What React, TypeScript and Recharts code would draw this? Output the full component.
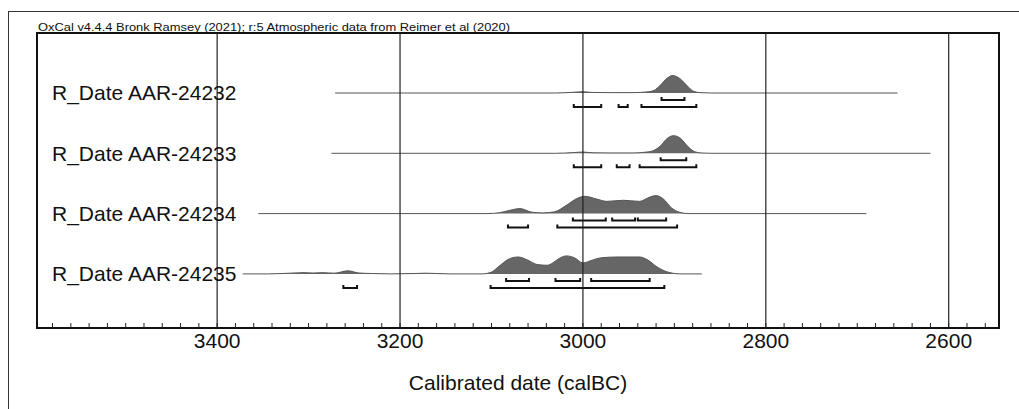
import React from 'react';
import { ComposedChart, Area, Line, XAxis, YAxis, ReferenceLine, ReferenceArea } from 'recharts';

const HEADER = 'OxCal v4.4.4 Bronk Ramsey (2021); r:5 Atmospheric data from Reimer et al (2020)';
const X_LABEL = 'Calibrated date (calBC)';
const SAMPLES = ['R_Date AAR-24232', 'R_Date AAR-24233', 'R_Date AAR-24234', 'R_Date AAR-24235'];

// [calBC, relative probability]
const PROB_24232 = [
  [3271, 0], [3030, 0], [3010, 0.04], [3000, 0.07], [2990, 0.03], [2970, 0.02], [2945, 0.02],
  [2930, 0.06], [2922, 0.15], [2916, 0.4], [2908, 0.82], [2902, 0.97], [2894, 0.8], [2886, 0.4],
  [2880, 0.12], [2872, 0.02], [2860, 0], [2656, 0],
];
const PROB_24233 = [
  [3275, 0], [3030, 0], [3010, 0.04], [3000, 0.07], [2990, 0.03], [2970, 0.02], [2945, 0.02],
  [2930, 0.07], [2922, 0.17], [2915, 0.42], [2908, 0.82], [2901, 0.98], [2893, 0.82], [2886, 0.42],
  [2879, 0.12], [2871, 0.02], [2860, 0], [2620, 0],
];
const PROB_24234 = [
  [3355, 0], [3105, 0], [3091, 0.05], [3080, 0.18], [3069, 0.28], [3056, 0.08], [3044, 0.04],
  [3031, 0.1], [3017, 0.5], [3007, 0.83], [2998, 0.96], [2985, 0.81], [2974, 0.68], [2956, 0.74],
  [2938, 0.68], [2929, 0.87], [2920, 1.0], [2912, 0.81], [2903, 0.31], [2894, 0.07], [2885, 0], [2690, 0],
];
const PROB_24235 = [
  [3372, 0], [3345, 0], [3320, 0.04], [3305, 0.07], [3295, 0.05], [3285, 0.07], [3272, 0.04],
  [3257, 0.17], [3245, 0.05], [3230, 0.02], [3210, 0], [3185, 0.02], [3172, 0.04], [3160, 0.02],
  [3145, 0], [3110, 0], [3100, 0.1], [3094, 0.33], [3087, 0.62], [3082, 0.8], [3071, 0.94],
  [3060, 0.76], [3050, 0.52], [3039, 0.48], [3033, 0.61], [3025, 0.89], [3018, 1.0], [3009, 0.89],
  [3000, 0.61], [2990, 0.76], [2981, 0.89], [2963, 0.94], [2938, 0.94], [2930, 0.8], [2919, 0.39],
  [2910, 0.15], [2902, 0.04], [2894, 0], [2870, 0],
];

// highest probability ranges [from, to] calBC
const RANGE68_24232 = [[2914, 2889]];
const RANGE95_24232 = [[3010, 2980], [2961, 2951], [2936, 2876]];
const RANGE68_24233 = [[2915, 2887]];
const RANGE95_24233 = [[3010, 2980], [2963, 2949], [2938, 2876]];
const RANGE68_24234 = [[3011, 2975], [2968, 2943], [2940, 2909]];
const RANGE95_24234 = [[3082, 3060], [3028, 2897]];
const RANGE68_24235 = [[3084, 3059], [3030, 3003], [2991, 2927]];
const RANGE95_24235 = [[3262, 3247], [3101, 2911]];

const MAJOR_TICKS = [3400, 3200, 3000, 2800, 2600];
const X_DOMAIN = [2545, 3597];

const PROBS = [PROB_24232, PROB_24233, PROB_24234, PROB_24235];
const R68 = [RANGE68_24232, RANGE68_24233, RANGE68_24234, RANGE68_24235];
const R95 = [RANGE95_24232, RANGE95_24233, RANGE95_24234, RANGE95_24235];

const Y_MAX = 295;
const ROW0 = 235;
const ROW_GAP = 60.3;
const PEAK = 18;
const FONT = '"Liberation Sans", Arial, Helvetica, sans-serif';

const rows = SAMPLES.map((name, i) => ({
  name,
  base: ROW0 - i * ROW_GAP,
  data: PROBS[i].map(([x, p]) => ({ x, p })),
  r68: R68[i],
  r95: R95[i],
}));

const minorTicks: number[] = [];
for (let t = 2560; t <= 3580; t += 20) minorTicks.push(t);

function bracket(from: number, to: number, level: number) {
  return [
    { x: from, y: level + 3 },
    { x: from, y: level },
    { x: to, y: level },
    { x: to, y: level + 3 },
  ];
}

function DateTick(props: any) {
  const { x, y, payload } = props;
  const major = MAJOR_TICKS.includes(payload.value);
  return (
    <g>
      <line x1={x} x2={x} y1={y} y2={y - 5} stroke="#222" strokeWidth={1} />
      {major && (
        <text x={x} y={y + 20} textAnchor="middle" fontSize={21} fill="#111" fontFamily={FONT}>
          {payload.value}
        </text>
      )}
    </g>
  );
}

export default function App() {
  return (
    <div style={{ position: 'absolute', left: 0, top: 0, width: 1019, height: 409, background: '#fff', overflow: 'hidden' }}>
      <div
        style={{
          position: 'absolute', left: 8, top: 11, width: 1100, height: 500,
          borderLeft: '1px solid #333', borderTop: '1px solid #333',
        }}
      />
      <svg width={1019} height={40} style={{ position: 'absolute', left: 0, top: 0 }}>
        <text x={38} y={30.5} fontSize={11} fill="#111" fontFamily={FONT} textLength={472} lengthAdjust="spacingAndGlyphs">
          {HEADER}
        </text>
      </svg>
      <div style={{ position: 'absolute', left: 0, top: 0 }}>
        <ComposedChart width={1019} height={409} margin={{ top: 33, right: 20, bottom: 11, left: 37 }}>
          <XAxis
            type="number"
            dataKey="x"
            domain={X_DOMAIN}
            reversed
            allowDataOverflow
            ticks={minorTicks}
            interval={0}
            tick={<DateTick />}
            tickLine={false}
            tickSize={0}
            tickMargin={0}
            height={70}
            axisLine={{ stroke: '#111', strokeWidth: 2 }}
            label={{ value: X_LABEL, position: 'insideBottom', offset: 8, fill: '#111', fontSize: 21, fontFamily: FONT }}
          />
          <YAxis type="number" domain={[0, Y_MAX]} allowDataOverflow hide />
          {rows.map((r) => (
            <ReferenceLine
              key={'l' + r.name}
              y={r.base}
              stroke="none"
              label={{ value: r.name, position: 'insideLeft', offset: 15, fill: '#111', fontSize: 21, fontFamily: FONT }}
            />
          ))}
          {rows.map((r) => (
            <Area
              key={'a' + r.name}
              data={r.data}
              dataKey={(d: any) => r.base + d.p * PEAK}
              baseValue={r.base}
              type="monotone"
              fill="#666"
              fillOpacity={1}
              stroke="#555"
              strokeWidth={1}
              dot={false}
              activeDot={false}
              isAnimationActive={false}
            />
          ))}
          {rows.flatMap((r) => [
            ...r.r68.map(([a, b], j) => ({ key: `${r.name}-68-${j}`, pts: bracket(a, b, r.base - 7) })),
            ...r.r95.map(([a, b], j) => ({ key: `${r.name}-95-${j}`, pts: bracket(a, b, r.base - 14) })),
          ]).map((br) => (
            <Line
              key={br.key}
              data={br.pts}
              dataKey="y"
              type="linear"
              stroke="#111"
              strokeWidth={2}
              dot={false}
              activeDot={false}
              isAnimationActive={false}
            />
          ))}
          {MAJOR_TICKS.map((t) => (
            <ReferenceLine key={t} x={t} stroke="#222" strokeWidth={1.2} />
          ))}
          <ReferenceArea
            x1={X_DOMAIN[0]}
            x2={X_DOMAIN[1]}
            y1={0}
            y2={Y_MAX}
            fill="none"
            stroke="#111"
            strokeWidth={2}
          />
        </ComposedChart>
      </div>
    </div>
  );
}
